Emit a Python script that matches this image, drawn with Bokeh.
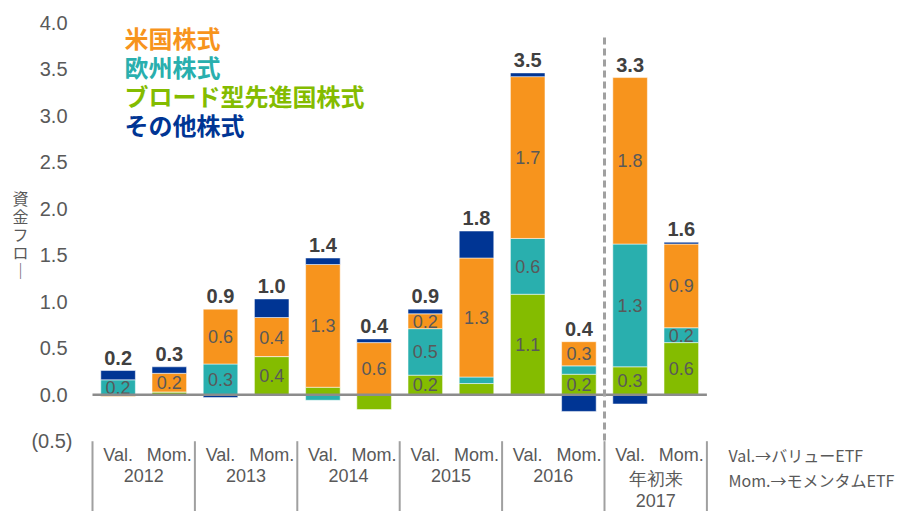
import numpy as np
from bokeh.plotting import figure
from bokeh.models import ColumnDataSource, Range1d
from bokeh.core.properties import value
from bokeh.embed import file_html
from bokeh.resources import INLINE

# ---------------- data ----------------
years = ["2012", "2013", "2014", "2015", "2016", "年初来\n2017"]
etf_types = ["Val.", "Mom."]
us_equity = [-0.02, 0.20, 0.59, 0.42, 1.32, 0.56, 0.16, 1.28, 1.74, 0.26, 1.79, 0.90]
europe_equity = [0.16, 0.00, 0.33, 0.00, -0.06, 0.00, 0.50, 0.07, 0.60, 0.09, 1.32, 0.16]
broad_developed = [0.00, 0.03, 0.00, 0.41, 0.08, -0.16, 0.21, 0.12, 1.08, 0.22, 0.30, 0.56]
other_equity = [0.10, 0.07, -0.03, 0.20, 0.07, 0.04, 0.05, 0.29, 0.04, -0.18, -0.10, 0.02]
series_names = ["米国株式", "欧州株式", "ブロード型先進国株式", "その他株式"]
y_ticks = [-0.5, 0.0, 0.5, 1.0, 1.5, 2.0, 2.5, 3.0, 3.5, 4.0]
y_title_chars = ["資", "金", "フ", "ロ", "｜"]
notes = ["Val.→バリューETF", "Mom.→モメンタムETF"]

# ---------------- style ----------------
C_US, C_EU, C_BROAD, C_OTHER = "#F7941D", "#29AFAE", "#84BC00", "#003594"
TXT = "#595959"
TOT = "#404040"
LATIN = "Liberation Sans"
CJK = "Noto Sans CJK JP"

W, H = 902, 511
PXX, PXY = 51.2, 93.0          # pixels per data unit
ZERO_PAGE_X, ZERO_PAGE_Y = 92.0, 394.2
ORIGIN = 0                     # page position of the canvas corner


def px2x(page_x):
    return (page_x - ZERO_PAGE_X) / PXX


def py2y(page_y):
    return (ZERO_PAGE_Y - page_y) / PXY


x0 = px2x(ORIGIN)
x1 = x0 + W / PXX
y1 = py2y(ORIGIN)
y0 = y1 - H / PXY

p = figure(width=W, height=H, x_range=Range1d(x0, x1), y_range=Range1d(y0, y1),
           output_backend="svg", toolbar_location=None, min_border=0,
           x_axis_location=None, y_axis_location=None)
p.outline_line_color = None
p.grid.visible = False
p.background_fill_color = "white"

n = len(us_equity)
xs = np.arange(n) + 0.5
bar_w = 0.675

stack_order = [(broad_developed, C_BROAD, True),
               (europe_equity, C_EU, True),
               (us_equity, C_US, True),
               (other_equity, C_OTHER, False)]
pos = np.zeros(n)
neg = np.zeros(n)
seg_x, seg_y, seg_t = [], [], []
for vals, col, labelled in stack_order:
    v = np.array(vals, dtype=float)
    bottom = np.where(v >= 0, pos, neg + v)
    top = np.where(v >= 0, pos + v, neg)
    pos = np.where(v >= 0, pos + v, pos)
    neg = np.where(v < 0, neg + v, neg)
    src = ColumnDataSource(dict(x=xs, bottom=bottom, top=top))
    p.vbar(x="x", width=bar_w, bottom="bottom", top="top", source=src,
           fill_color=col, line_color="#ffffff", line_alpha=0.5, line_width=1)
    if labelled:
        for i in range(n):
            if v[i] >= 0.15:
                seg_x.append(xs[i])
                seg_y.append((bottom[i] + top[i]) / 2)
                seg_t.append(f"{v[i]:.1f}")

# segment labels
p.text(x=seg_x, y=seg_y, text=seg_t, text_align="center", text_baseline="middle",
       text_font=value(LATIN), text_font_size="18px", text_color=TXT)

# totals
totals = np.array(us_equity) + np.array(europe_equity) + np.array(broad_developed) + np.array(other_equity)
p.text(x=xs, y=pos, text=[f"{t:.1f}" for t in totals], y_offset=-13,
       text_align="center", text_baseline="middle",
       text_font=value(LATIN), text_font_size="20px", text_font_style="bold", text_color=TOT)

# zero line
p.segment(x0=[0], y0=[0], x1=[n], y1=[0], line_color="#8c8c8c", line_width=2.5)

# y tick labels
p.text(x=[0] * len(y_ticks), y=y_ticks,
       text=[f"({abs(t):.1f})" if t < 0 else f"{t:.1f}" for t in y_ticks],
       x_offset=[-20 if t < 0 else -25 for t in y_ticks],
       text_align="right", text_baseline="middle",
       text_font=value(LATIN), text_font_size="20px", text_color=TXT)

# y title (vertical writing, one character per line)
p.text(x=[px2x(20)] * len(y_title_chars),
       y=[py2y(197 + 18 * i) for i in range(len(y_title_chars))],
       text=y_title_chars, text_align="center", text_baseline="middle",
       text_font=value(CJK), text_font_size="16px", text_color=TXT)

# category axis: separators
n_groups = len(years)
bounds = np.arange(n_groups + 1) * 2
p.segment(x0=bounds, y0=[y_ticks[0]] * len(bounds), x1=bounds, y1=[y0 - 1] * len(bounds),
          line_color="#a0a0a0", line_width=2)
# dashed divider before YTD
p.segment(x0=[bounds[-2]], y0=[3.84], x1=[bounds[-2]], y1=[y_ticks[0]],
          line_color="#a0a0a0", line_width=3, line_dash="7 4")

# Val./Mom. labels
p.text(x=xs, y=[y_ticks[0]] * n, text=etf_types * n_groups, y_offset=14,
       text_align="center", text_baseline="middle",
       text_font=value(LATIN), text_font_size="18px", text_color=TXT)
# year labels
gx = bounds[:-1] + 1
p.text(x=gx, y=[y_ticks[0]] * n_groups, text=years, y_offset=28,
       text_align="center", text_baseline="top", text_line_height=1.1,
       text_font=value(LATIN), text_font_size="18px", text_color=TXT)

# notes
p.text(x=[px2x(728)] * 2, y=[y_ticks[0]] * 2, text=notes, y_offset=[14, 39],
       text_align="left", text_baseline="middle",
       text_font=value(CJK), text_font_size="16px", text_color=TXT)

# legend texts
leg_cols = [C_US, C_EU, C_BROAD, C_OTHER]
leg_page_y = [37, 66, 95, 124]
p.text(x=[px2x(124)] * 4, y=[py2y(v) for v in leg_page_y], text=series_names,
       text_align="left", text_baseline="middle", text_color=leg_cols,
       text_font=value(CJK), text_font_size="24px", text_font_style="bold")

open("out.html", "w").write(file_html(p, INLINE))
